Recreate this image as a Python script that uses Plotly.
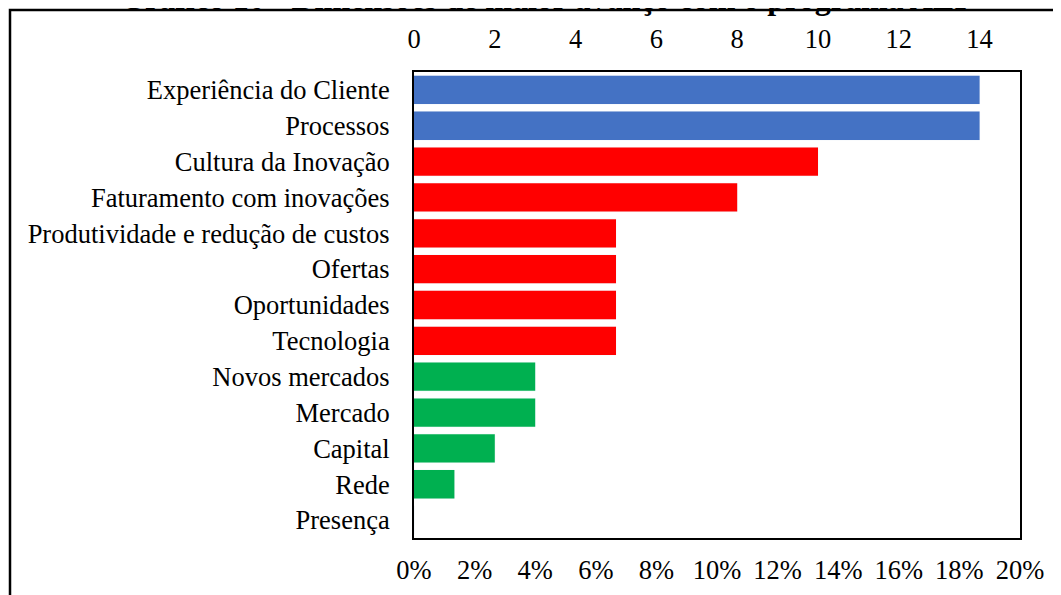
import plotly.graph_objects as go

categorias = [
    "Experiência do Cliente", "Processos", "Cultura da Inovação",
    "Faturamento com inovações", "Produtividade e redução de custos",
    "Ofertas", "Oportunidades", "Tecnologia", "Novos mercados",
    "Mercado", "Capital", "Rede", "Presença",
]
contagens = [14, 14, 10, 8, 5, 5, 5, 5, 3, 3, 2, 1, 0]
grupos = ["alto", "alto", "medio", "medio", "medio", "medio", "medio", "medio",
          "baixo", "baixo", "baixo", "baixo", "baixo"]

CORES = {"alto": "#4472C4", "medio": "#FF0000", "baixo": "#00B050"}
FONTE = "Liberation Serif"

total = sum(contagens)
percentuais = [c / total for c in contagens]

fig = go.Figure()
# percent series on the bottom axis (invisible, just drives the axis)
fig.add_trace(go.Bar(
    x=percentuais, y=categorias, orientation="h", xaxis="x", yaxis="y",
    marker=dict(color="rgba(0,0,0,0)"), hoverinfo="skip", showlegend=False,
))
fig.add_trace(go.Bar(
    x=contagens, y=categorias, orientation="h", xaxis="x2", yaxis="y",
    marker=dict(color=[CORES[g] for g in grupos], line=dict(width=0)),
    showlegend=False,
))

# page has an 8px body margin, so figure coords = page coords - 8
OFF = 8
W, H = 1061, 595
L, T = 414 - OFF, 72 - OFF
R, B = W - (1020 - OFF), H - (538 - OFF)
pw, ph = W - L - R, H - T - B


def px_x(p):
    return (p - OFF - L) / pw


def px_y(p):
    return (H - B - (p - OFF)) / ph


fig.update_layout(
    width=W, height=H,
    margin=dict(l=L, r=R, t=T, b=B, autoexpand=False),
    plot_bgcolor="white", paper_bgcolor="white",
    font=dict(family=FONTE, size=26.5, color="#000000"),
    barmode="overlay", bargap=0.21,
    xaxis=dict(
        range=[0, 0.2], dtick=0.02, tickformat=".0%",
        showgrid=False, zeroline=False,
        showline=True, linecolor="black", linewidth=2, mirror=True,
        ticks="", ticklabelstandoff=7,
    ),
    xaxis2=dict(
        range=[0, 15], tickvals=[0, 2, 4, 6, 8, 10, 12, 14],
        overlaying="x", side="top", anchor="y",
        showgrid=False, zeroline=False, showline=False,
        ticks="", ticklabelstandoff=18,
    ),
    yaxis=dict(
        autorange="reversed", showgrid=False, zeroline=False,
        showline=True, linecolor="black", linewidth=2, mirror=True,
        ticks="", ticklabelstandoff=17,
    ),
    shapes=[dict(
        type="rect", xref="paper", yref="paper",
        x0=px_x(10), x1=px_x(1100), y0=px_y(10), y1=px_y(640),
        line=dict(color="black", width=2.5),
    )],
    annotations=[dict(
        text="<b>Gráfico 10 - Dimensões de maior avanço com o programa ALI</b>",
        xref="paper", yref="paper", x=px_x(543), y=px_y(-2),
        xanchor="center", yanchor="middle", showarrow=False,
        font=dict(family=FONTE, size=32, color="black"),
    )],
)

fig.write_html("out.html")
